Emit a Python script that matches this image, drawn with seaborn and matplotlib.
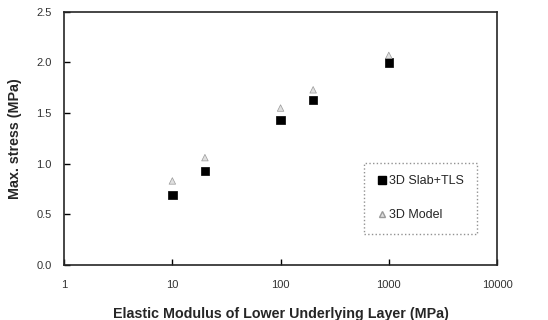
import seaborn as sns
import matplotlib.pyplot as plt
import pandas as pd

modulus = [10, 20, 100, 200, 1000]
slab_tls = [0.69, 0.93, 1.43, 1.63, 2.00]
model_3d = [0.83, 1.06, 1.55, 1.73, 2.07]

df = pd.DataFrame({
    'E': modulus * 2,
    'stress': slab_tls + model_3d,
    'series': ['3D Slab+TLS'] * len(modulus) + ['3D Model'] * len(modulus),
})

sns.set_style('ticks')
plt.rcParams['font.family'] = ['Liberation Sans', 'DejaVu Sans']

fig = plt.figure(figsize=(5.48, 3.2), dpi=100)
ax = fig.add_axes([0.117, 0.172, 0.790, 0.791])

sns.scatterplot(data=df, x='E', y='stress', hue='series', style='series',
                markers={'3D Slab+TLS': 's', '3D Model': '^'},
                palette={'3D Slab+TLS': 'black', '3D Model': 'white'},
                s=40, edgecolor=None, ax=ax, legend=False)
# restyle the triangles: hollow grey
coll = ax.collections
coll[0].set_edgecolors(['black'] * 5 + ['#9a9a9a'] * 5)
coll[0].set_facecolors(['black'] * 5 + ['#e0e0e0'] * 5)
coll[0].set_sizes([36] * 5 + [22] * 5)

ax.set_xscale('log')
ax.set_xlim(1, 10000)
ax.set_ylim(0, 2.5)
ax.set_yticks([0, 0.5, 1.0, 1.5, 2.0, 2.5])
ax.set_yticklabels(['0.0', '0.5', '1.0', '1.5', '2.0', '2.5'])
ax.set_xticks([1, 10, 100, 1000, 10000])
ax.set_xticklabels(['1', '10', '100', '1000', '10000'])
ax.minorticks_off()
ax.tick_params(direction='in', length=4, width=1, labelsize=8, colors='black',
               labelcolor='#333333', pad=9)
ax.tick_params(axis='x', pad=11)
for s in ax.spines.values():
    s.set_linewidth(1.2)

ax.set_xlabel('Elastic Modulus of Lower Underlying Layer (MPa)', fontsize=10.3,
              fontweight='bold', labelpad=12)
ax.set_ylabel('Max. stress (MPa)', fontsize=10.3, fontweight='bold', labelpad=10)

h1 = plt.Line2D([], [], marker='s', color='black', linestyle='', markersize=6)
h2 = plt.Line2D([], [], marker='^', color='#9a9a9a', markerfacecolor='#e0e0e0',
                linestyle='', markersize=4.5)
leg = ax.legend([h1, h2], ['3D Slab+TLS', '3D Model'], loc='upper left',
                bbox_to_anchor=(0.693, 0.403), borderaxespad=0, frameon=True,
                fontsize=9, handletextpad=0.1, labelspacing=1.75, borderpad=1.0,
                handlelength=0.9, fancybox=False)
leg.get_frame().set_edgecolor('#777777')
leg.get_frame().set_linestyle(':')
leg.get_frame().set_linewidth(1)

fig.savefig('out.png', dpi=100)
